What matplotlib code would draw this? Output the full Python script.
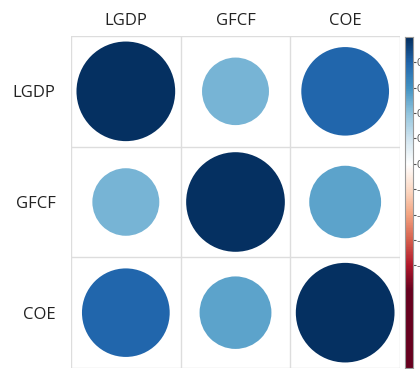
import matplotlib
matplotlib.use("Agg")
import matplotlib.pyplot as plt
import numpy as np
from matplotlib.colors import LinearSegmentedColormap
from matplotlib.patches import Circle

labels = ["LGDP", "GFCF", "COE"]
corr = np.array([
    [1.00, 0.46, 0.79],
    [0.46, 1.00, 0.53],
    [0.79, 0.53, 1.00],
])
bar_ticks = [0.8, 0.6, 0.4, 0.2, 0.0, -0.2, -0.4, -0.6, -0.8]

# corrplot-style red/blue palette
col2 = ["#67001F", "#B2182B", "#D6604D", "#F4A582", "#FDDBC7", "#FFFFFF",
        "#D1E5F0", "#92C5DE", "#4393C3", "#2166AC", "#053061"]
cmap = LinearSegmentedColormap.from_list("col2", col2, N=200)

plt.rcParams['font.family'] = ['Open Sans', 'DejaVu Sans']

fig = plt.figure(figsize=(4.2, 3.69), dpi=100)
ax = fig.add_axes([71 / 420, 1 / 369, 329 / 420, 332 / 369])
n = len(labels)

for i in range(n):
    for j in range(n):
        r = corr[i, j]
        rad = 0.9 * np.sqrt(abs(r)) / 2
        ax.add_patch(Circle((j + 0.5, i + 0.5), rad,
                            facecolor=cmap((r + 1) / 2), edgecolor='none'))

# cell grid
for k in range(n + 1):
    ax.axhline(k, color='#dddddd', lw=1)
    ax.axvline(k, color='#dddddd', lw=1)

ax.set_xlim(0, n)
ax.set_ylim(n, 0)
for s in ax.spines.values():
    s.set_visible(False)
ax.xaxis.tick_top()
ax.set_xticks(np.arange(n) + 0.5)
ax.set_xticklabels(labels, fontsize=12)
ax.set_yticks(np.arange(n) + 0.5)
ax.set_yticklabels(labels, fontsize=12)
ax.tick_params(axis='x', length=0, pad=5, colors='#222222')
ax.tick_params(axis='y', length=0, pad=11, colors='#222222')

# colour bar, running from the top down past -1 at the bottom
cax = fig.add_axes([405 / 420, 1 / 369, 8 / 420, 331 / 369])
vals = np.linspace(-1.61, 1, 400).reshape(-1, 1)
cax.imshow(vals, cmap=cmap, vmin=-1, vmax=1, origin='lower',
           extent=[0, 1, -1.61, 1], aspect='auto')
cax.set_xticks([])
cax.yaxis.tick_right()
cax.set_yticks(bar_ticks)
cax.set_yticklabels([f"{t:g}" for t in bar_ticks], fontsize=8)
cax.tick_params(axis='y', length=2, width=0.8, colors='#555555', pad=0.5)
for s in cax.spines.values():
    s.set_color('#999999')
    s.set_linewidth(0.8)

fig.savefig("out.png", dpi=100, facecolor='white')
